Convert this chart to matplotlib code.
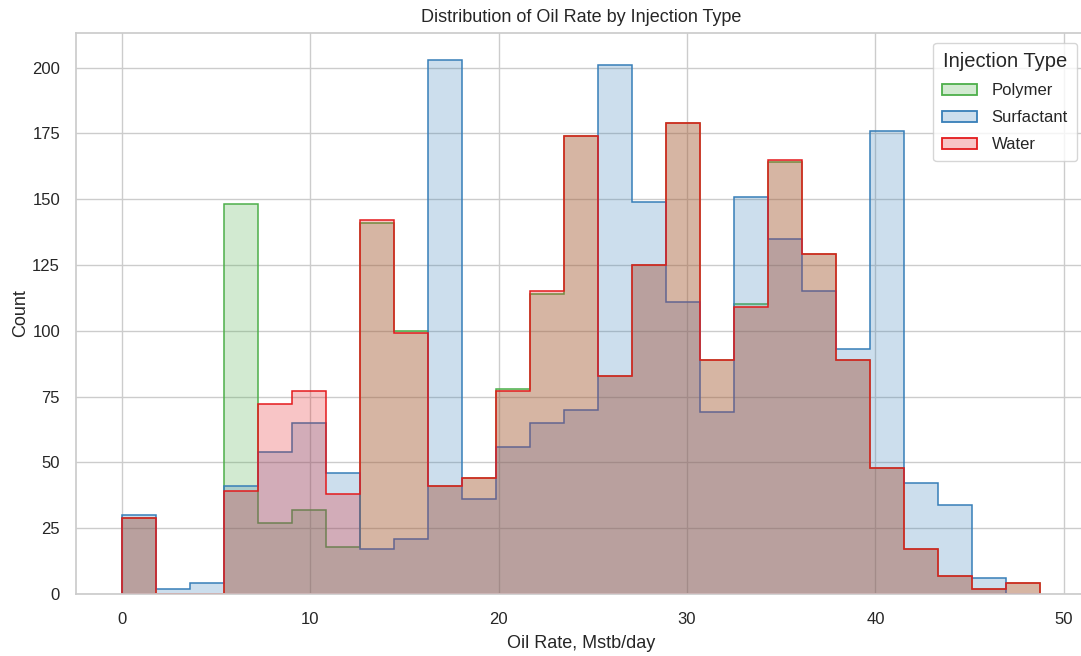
import numpy as np
import matplotlib
matplotlib.use("Agg")
import matplotlib.pyplot as plt
import seaborn as sns
from matplotlib.colors import to_rgba
from matplotlib.patches import Patch

# ---- data ----
bin_low = 0.0
bin_high = 48.74
n_bins = 27

polymer = [29, 0, 0, 148, 27, 32, 18, 141, 100, 41, 44, 78, 114, 174, 83, 125,
           179, 89, 110, 164, 129, 89, 48, 17, 7, 2, 4]
surfactant = [30, 2, 4, 41, 54, 65, 46, 17, 21, 203, 36, 56, 65, 70, 201, 149,
              111, 69, 151, 135, 115, 93, 176, 42, 34, 6, 0]
water = [29, 0, 0, 39, 72, 77, 38, 142, 99, 41, 44, 77, 115, 174, 83, 125,
         179, 89, 109, 165, 129, 89, 48, 17, 7, 2, 4]

categories = ["Polymer", "Surfactant", "Water"]
colors = {"Polymer": "#4daf4a", "Surfactant": "#377eb8", "Water": "#e41a1c"}
series = {"Polymer": polymer, "Surfactant": surfactant, "Water": water}

sns.set_theme(style="whitegrid")
plt.rcParams["font.family"] = ["Liberation Sans", "DejaVu Sans"]

W, H = 1081, 656
fig = plt.figure(figsize=(W / 100, H / 100), dpi=100)
ax = fig.add_axes([76 / W, (H - 594) / H, (1086 - 76) / W, (594 - 33) / H])

edges = np.linspace(bin_low, bin_high, n_bins + 1)
centers = (edges[:-1] + edges[1:]) / 2

handles = []
for cat in categories:
    c = colors[cat]
    ax.hist(centers, bins=edges, weights=series[cat], histtype="stepfilled",
            facecolor=to_rgba(c, 0.25), edgecolor=c, linewidth=1.1)
    handles.append(Patch(facecolor=to_rgba(c, 0.25), edgecolor=c, linewidth=1.3, label=cat))

ax.set_xlim(-2.437, 51.18)
ax.set_ylim(0, 213.15)
ax.set_xticks([0, 10, 20, 30, 40, 50])
ax.set_yticks([0, 25, 50, 75, 100, 125, 150, 175, 200])
ax.tick_params(axis="x", labelsize=12, pad=7)
ax.tick_params(axis="y", labelsize=12, pad=5.5)

ax.set_title("Distribution of Oil Rate by Injection Type", fontsize=13, pad=8)
ax.set_xlabel("Oil Rate, Mstb/day", fontsize=13, labelpad=6)
ax.set_ylabel("Count", fontsize=13, labelpad=2.5)

leg = ax.legend(handles=handles, title="Injection Type", loc="upper right",
                fontsize=12, title_fontsize=14.5, frameon=True,
                labelspacing=0.72, handlelength=2.1, handletextpad=0.85,
                borderpad=0.55, borderaxespad=0)
leg.set_bbox_to_anchor((1077 / W, 1 - 43 / H), transform=fig.transFigure)

fig.savefig("out.png", dpi=100)
